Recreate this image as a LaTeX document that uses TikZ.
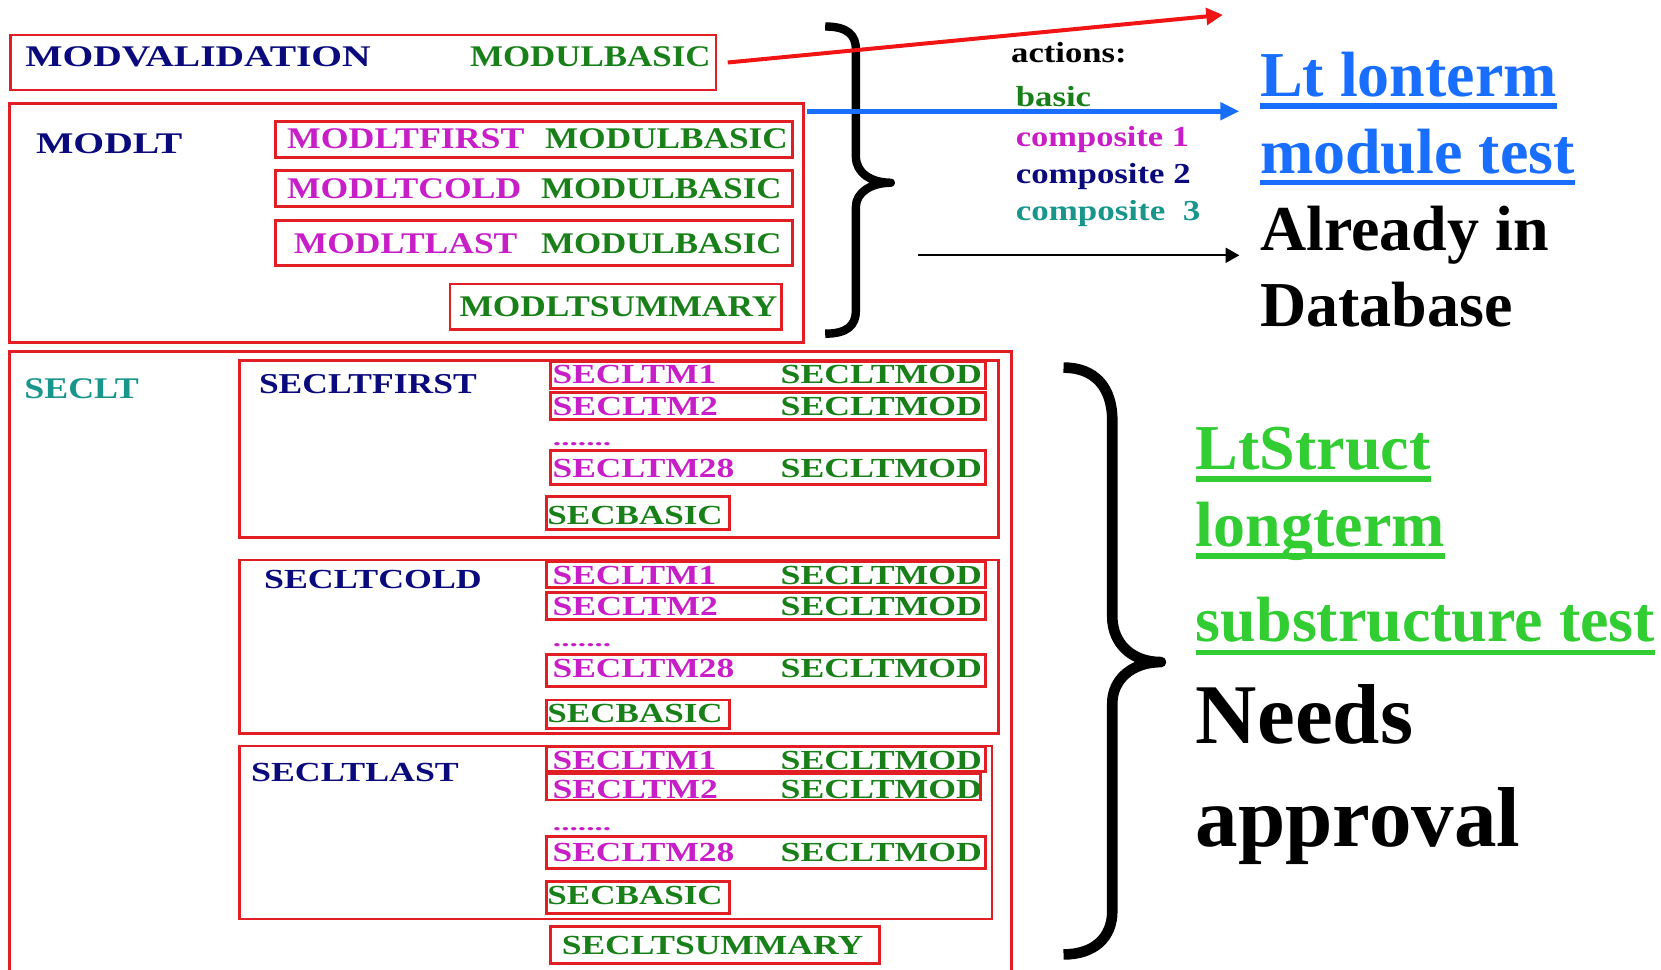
\documentclass[tikz,border=0pt]{standalone}
\usepackage{fontspec}
\setmainfont{Liberation Serif}
\usetikzlibrary{arrows.meta,fit}
\newlength\ux
\setlength\ux{0.52965pt}
\newcommand\fitw[2]{\resizebox{#1\ux}{\height}{#2}}
\newcommand\fsA{\fontsize{15pt}{15pt}\selectfont\bfseries}
\newcommand\fsT{\fontsize{14.4pt}{14.4pt}\selectfont\bfseries}
\newcommand\fsB{\fontsize{13.8pt}{13.8pt}\selectfont\bfseries}
\newcommand\fsD{\fontsize{10pt}{10pt}\selectfont\bfseries}
\newcommand\fsC{\fontsize{14.5pt}{14.5pt}\selectfont\bfseries}
\newcommand\fsL{\fontsize{32pt}{32pt}\selectfont\bfseries}
\newcommand\fsN{\fontsize{42.5pt}{42.5pt}\selectfont\bfseries}
\definecolor{boxred}{RGB}{225,30,35}
\definecolor{navy}{RGB}{10,10,125}
\definecolor{dgreen}{RGB}{25,128,25}
\definecolor{magen}{RGB}{200,30,200}
\definecolor{teal2}{RGB}{25,150,140}
\definecolor{arrred}{RGB}{240,20,20}
\definecolor{arrblue}{RGB}{25,110,255}
\definecolor{lgreen}{RGB}{50,205,50}
\begin{document}
\begin{tikzpicture}[x=0.52965pt,y=-0.52965pt,
  box/.style={draw=boxred,line width=1.4pt,inner sep=0pt,outer sep=0pt},
  lbl/.style={inner sep=0pt,outer sep=0pt,anchor=west},
  big/.style={inner sep=0pt,outer sep=0pt,anchor=base west},
  ulblue/.style={draw=arrblue,line width=2.65pt},
  ulgreen/.style={draw=lgreen,line width=2.9pt},
  redarr/.style={draw=arrred,line width=2pt,-{Triangle[length=8.3pt,width=8.3pt]}},
  bluearr/.style={draw=arrblue,line width=2.5pt,-{Triangle[length=9.5pt,width=8.5pt]}},
  blkarr/.style={draw=black,line width=1pt,-{Triangle[length=6.9pt,width=7.5pt]}},
  brace1/.style={draw=black,line width=4.2pt,line join=round},
  brace2/.style={draw=black,line width=5.3pt,line join=round},
]
\useasboundingbox (0,0) rectangle (1568,915);
\clip (0,0) rectangle (1568,915);

% ---------- boxes ----------
\node[box,fit={(10,33) (676,85)}] (mvbox) {};
\node[box,fit={(9,97.6) (758.6,323.5)}] (mlbox) {};
\node[box,fit={(260,114.9) (748,148.5)}] (mfbox) {};
\node[box,fit={(260,161) (748,195)}] (mcbox) {};
\node[box,fit={(260,208.3) (748,250.8)}] (mlabox) {};
\node[box,fit={(424.8,268) (738,311)}] (msbox) {};

\node[box,fit={(9,332) (955,940)}] (slbox) {};
% first
\node[box,fit={(226.2,340.5) (942.5,507.3)}] (sfbox) {};
\node[box,fit={(520,341.4) (930.4,366.6)}] (sf1) {};
\node[box,fit={(520,370.7) (930.4,395.9)}] (sf2) {};
\node[box,fit={(520,425.5) (930.4,457)}] (sf28) {};
\node[box,fit={(515.6,468.9) (688.3,499.7)}] (sfb) {};
% cold
\node[box,fit={(226.2,528.7) (942.5,692.3)}] (scbox) {};
\node[box,fit={(515.6,530.2) (930.4,554.5)}] (sc1) {};
\node[box,fit={(515.6,559.2) (930.4,584.7)}] (sc2) {};
\node[box,fit={(515.6,617.7) (930.4,648.2)}] (sc28) {};
\node[box,fit={(515.6,660.8) (688.3,687.5)}] (scb) {};
% last
\node[box,fit={(226.2,704.3) (936.4,867.6)}] (sabox) {};
\node[box,fit={(515.6,704.9) (930.4,728.5)}] (sa1) {};
\node[box,fit={(515.6,730.7) (925.5,755.2)}] (sa2) {};
\node[box,fit={(515.6,789.8) (930.4,819.7)}] (sa28) {};
\node[box,fit={(515.6,832.3) (688.3,862.2)}] (sab) {};
\node[box,fit={(520,874.8) (830,909.4)}] (ssbox) {};

% ---------- box texts ----------
\node[lbl,text=navy,font=\fsA] (tmv) at (24,53.5) {\fitw{326}{MODVALIDATION}};
\node[lbl,text=dgreen,font=\fsA] (tmb0) at (443.8,53.5) {\fitw{227}{MODULBASIC}};
\node[lbl,text=navy,font=\fsA] (tml) at (34,135.3) {\fitw{138}{MODLT}};
\node[lbl,text=magen,font=\fsA] (tmf) at (271,130.6) {\fitw{224}{MODLTFIRST}};
\node[lbl,text=dgreen,font=\fsA] (tmb1) at (514.7,130.6) {\fitw{229}{MODULBASIC}};
\node[lbl,text=magen,font=\fsA] (tmc) at (271,177.8) {\fitw{221}{MODLTCOLD}};
\node[lbl,text=dgreen,font=\fsA] (tmb2) at (510.8,177.8) {\fitw{227}{MODULBASIC}};
\node[lbl,text=magen,font=\fsA] (tmla) at (277.4,229.7) {\fitw{211}{MODLTLAST}};
\node[lbl,text=dgreen,font=\fsA] (tmb3) at (510.8,229.7) {\fitw{227}{MODULBASIC}};
\node[lbl,text=dgreen,font=\fsA] (tms) at (433.8,289.5) {\fitw{300}{MODLTSUMMARY}};

\node[lbl,text=teal2,font=\fsA] (tsl) at (23,366.6) {\fitw{108}{SECLT}};
% first
\node[lbl,text=navy,font=\fsT] (tsf) at (244.5,363) {\fitw{205.5}{SECLTFIRST}};
\node[lbl,text=magen,font=\fsB] (tsf1) at (521.7,353.2) {\fitw{154.5}{SECLTM1}};
\node[lbl,text=dgreen,font=\fsB] (tsf1m) at (737,353.2) {\fitw{190}{SECLTMOD}};
\node[lbl,text=magen,font=\fsB] (tsf2) at (521.7,383.3) {\fitw{156}{SECLTM2}};
\node[lbl,text=dgreen,font=\fsB] (tsf2m) at (737,383.3) {\fitw{190}{SECLTMOD}};
\node[big,text=magen,font=\fsD] (tsfd) at (522,421) {\fitw{55}{.......}};
\node[lbl,text=magen,font=\fsB] (tsf28) at (521.7,442.1) {\fitw{171.5}{SECLTM28}};
\node[lbl,text=dgreen,font=\fsB] (tsf28m) at (737,442.1) {\fitw{190}{SECLTMOD}};
\node[lbl,text=dgreen,font=\fsB] (tsfb) at (516.8,486.2) {\fitw{165.5}{SECBASIC}};
% cold
\node[lbl,text=navy,font=\fsB] (tsc) at (249.3,546.8) {\fitw{205.5}{SECLTCOLD}};
\node[lbl,text=magen,font=\fsB] (tsc1) at (521.7,542.8) {\fitw{154.5}{SECLTM1}};
\node[lbl,text=dgreen,font=\fsB] (tsc1m) at (737,542.8) {\fitw{190}{SECLTMOD}};
\node[lbl,text=magen,font=\fsB] (tsc2) at (521.7,572.7) {\fitw{156}{SECLTM2}};
\node[lbl,text=dgreen,font=\fsB] (tsc2m) at (737,572.7) {\fitw{190}{SECLTMOD}};
\node[big,text=magen,font=\fsD] (tscd) at (522,610) {\fitw{55}{.......}};
\node[lbl,text=magen,font=\fsB] (tsc28) at (521.7,630.9) {\fitw{171.5}{SECLTM28}};
\node[lbl,text=dgreen,font=\fsB] (tsc28m) at (737,630.9) {\fitw{190}{SECLTMOD}};
\node[lbl,text=dgreen,font=\fsB] (tscb) at (516.8,673.4) {\fitw{165.5}{SECBASIC}};
% last
\node[lbl,text=navy,font=\fsB] (tsa) at (237.1,729.3) {\fitw{196}{SECLTLAST}};
\node[lbl,text=magen,font=\fsB] (tsa1) at (521.7,717.5) {\fitw{154.5}{SECLTM1}};
\node[lbl,text=dgreen,font=\fsB] (tsa1m) at (737,717.5) {\fitw{190}{SECLTMOD}};
\node[lbl,text=magen,font=\fsB] (tsa2) at (521.7,744.9) {\fitw{156}{SECLTM2}};
\node[lbl,text=dgreen,font=\fsB] (tsa2m) at (737,744.9) {\fitw{190}{SECLTMOD}};
\node[big,text=magen,font=\fsD] (tsad) at (522,784) {\fitw{55}{.......}};
\node[lbl,text=magen,font=\fsB] (tsa28) at (521.7,804.8) {\fitw{171.5}{SECLTM28}};
\node[lbl,text=dgreen,font=\fsB] (tsa28m) at (737,804.8) {\fitw{190}{SECLTMOD}};
\node[lbl,text=dgreen,font=\fsB] (tsab) at (516.8,845.7) {\fitw{165.5}{SECBASIC}};
\node[lbl,text=dgreen,font=\fsB] (tss) at (530.3,892.9) {\fitw{284.5}{SECLTSUMMARY}};

% ---------- actions ----------
\node[big,font=\fsC] (act) at (954.6,59) {\fitw{109}{actions:}};
\node[big,text=dgreen,font=\fsC] (acb) at (959,100.7) {\fitw{71}{basic}};
\node[big,text=magen,font=\fsC] (ac1) at (959,138.5) {\fitw{163.5}{composite 1}};
\node[big,text=navy,font=\fsC] (ac2) at (959,173) {\fitw{165}{composite 2}};
\node[big,text=teal2,font=\fsC] (ac3) at (959,207.7) {\fitw{174}{composite\ \ 3}};

% ---------- right texts ----------
\node[big,text=arrblue,font=\fsL] (lt1) at (1189.5,91) {Lt lonterm};
\node[big,text=arrblue,font=\fsL] (lt2) at (1189.5,163.6) {module test};
\node[big,font=\fsL] (ad1) at (1189.5,236) {Already in};
\node[big,font=\fsL] (ad2) at (1189.5,308.5) {Database};
\node[big,text=lgreen,font=\fsL] (ls1) at (1129,443) {LtStruct};
\node[big,text=lgreen,font=\fsL] (ls2) at (1129,515.5) {longterm};
\node[big,text=lgreen,font=\fsL] (ls3) at (1129,606) {substructure test};
\node[big,font=\fsN] (na1) at (1129,702) {Needs};
\node[big,font=\fsN] (na2) at (1129,798.7) {approval};

\draw[ulblue] ([yshift=-9\ux]lt1.base west) -- ([yshift=-9\ux]lt1.base east);
\draw[ulblue] ([yshift=-9\ux]lt2.base west) -- ([yshift=-9\ux]lt2.base east);
\draw[ulgreen] ([yshift=-9.5\ux]ls1.base west) -- ([yshift=-9.5\ux]ls1.base east);
\draw[ulgreen] ([yshift=-9\ux]ls2.base west) -- ([yshift=-9\ux]ls2.base east);
\draw[ulgreen] ([yshift=-10\ux]ls3.base west) -- ([yshift=-10\ux]ls3.base east);

% ---------- braces ----------
\draw[brace1] (779,25) .. controls (800,25) and (808,33) .. (808,47) -- (808,148)
  .. controls (808,163) and (822,172.5) .. (841,172.5)
  .. controls (822,172.5) and (808,182) .. (808,195) -- (808,293)
  .. controls (808,307) and (800,315) .. (779,315);
\draw[brace2] (1004,347) .. controls (1033,347) and (1050,365) .. (1050,397) -- (1050,582)
  .. controls (1050,607) and (1068,625) .. (1096,625)
  .. controls (1068,625) and (1050,642) .. (1050,664) -- (1050,860)
  .. controls (1050,885) and (1033,901) .. (1004,901);

% ---------- arrows ----------
\coordinate (re) at (1154.4,14);
\coordinate (bs) at (762,105);
\coordinate (ks) at (866.7,241);
\draw[redarr] ([xshift=11\ux]mvbox.east) -- (re);
\draw[bluearr,shorten >=19.5\ux] (bs) -- (bs -| lt1.west);
\draw[blkarr,shorten >=19.5\ux] (ks) -- (ks -| ad1.west);
\end{tikzpicture}
\end{document}
